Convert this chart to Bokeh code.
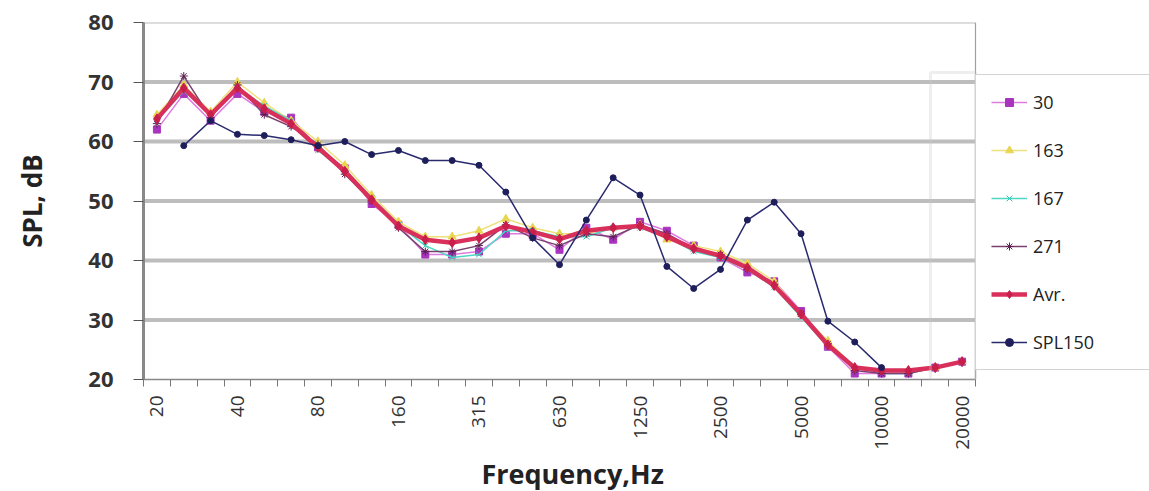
import numpy as np
from bokeh.plotting import figure
from bokeh.models import Range1d, FixedTicker, Legend, LegendItem, BoxAnnotation, Title
from bokeh.embed import file_html
from bokeh.resources import INLINE

nan = float("nan")

freqs = ["20", "25", "31.5", "40", "50", "63", "80", "100", "125", "160", "200",
         "250", "315", "400", "500", "630", "800", "1000", "1250", "1600", "2000",
         "2500", "3150", "4000", "5000", "6300", "8000", "10000", "12500", "16000", "20000"]

s30 = [62.0, 68.0, 63.5, 68.0, 65.0, 64.0, 59.0, 55.5, 49.5, 46.0, 41.0, 41.0, 41.5,
       44.5, 44.5, 41.8, 45.5, 43.5, 46.5, 45.0, 42.5, 40.5, 38.0, 36.5, 31.5, 25.5,
       21.0, 21.0, 21.0, 22.0, 23.0]
s163 = [64.5, 69.5, 65.0, 70.0, 66.5, 63.5, 60.0, 56.0, 51.0, 46.5, 44.0, 44.0, 45.0,
        47.0, 45.5, 44.5, 44.5, 45.5, 46.0, 43.5, 42.5, 41.5, 39.5, 36.5, 31.0, 26.5,
        22.0, 21.5, 21.5, 22.0, 23.0]
s167 = [63.5, 68.5, 64.5, 69.0, 66.0, 63.5, 58.5, 55.0, 50.5, 46.0, 42.5, 40.5, 41.0,
        45.0, 45.0, 44.0, 44.0, 45.5, 45.5, 44.0, 41.5, 40.5, 38.5, 35.5, 30.5, 25.5,
        22.0, 21.0, 21.0, 22.0, 23.0]
s271 = [63.0, 71.0, 64.0, 69.5, 64.5, 62.5, 59.5, 54.5, 50.0, 45.5, 41.5, 41.5, 42.5,
        46.0, 43.8, 42.5, 44.5, 44.0, 46.0, 44.5, 42.0, 41.0, 38.5, 36.0, 31.0, 26.0,
        21.5, 21.0, 21.0, 22.0, 23.0]
avr = [63.8, 69.0, 64.5, 69.0, 65.5, 63.0, 59.0, 55.0, 50.2, 45.8, 43.5, 43.0, 43.8,
       45.8, 44.8, 43.6, 45.0, 45.5, 45.8, 44.0, 42.0, 40.8, 38.8, 35.8, 31.0, 25.8,
       22.0, 21.5, 21.5, 22.0, 23.0]
spl150 = [nan, 59.3, 63.5, 61.2, 61.0, 60.3, 59.3, 60.0, 57.8, 58.5, 56.8, 56.8, 56.0,
          51.5, 43.8, 39.3, 46.8, 53.9, 51.0, 39.0, 35.3, 38.5, 46.8, 49.8, 44.5, 29.8,
          26.3, 22.0, nan, nan, nan]

y_ticks = [20, 30, 40, 50, 60, 70, 80]

x = list(range(len(freqs)))
n = len(freqs)

# layout: plotting area 832 px wide for the categories, the remaining
# 174 px on the right hold the legend (frame spans the whole width)
plot_w = 832
right_w = 174
x_end = (n - 0.5) + right_w * n / plot_w

p = figure(width=1149, height=491, output_backend="svg", toolbar_location=None,
           x_range=Range1d(-0.5, x_end), y_range=Range1d(20, 80),
           min_border_left=143, min_border_top=22, min_border_right=0,
           min_border_bottom=111)

p.background_fill_color = "white"
p.border_fill_color = "white"
p.outline_line_color = None

# grid (restricted to the category area)
p.xgrid.visible = False
p.ygrid.visible = False
mid = y_ticks[1:-1]
p.segment(x0=[-0.5] * len(mid), x1=[n - 0.5] * len(mid), y0=mid, y1=mid,
          line_color="#BDBDBD", line_width=4)
p.segment(x0=[-0.5], x1=[n - 0.5], y0=[y_ticks[-1]], y1=[y_ticks[-1]],
          line_color="#BBBBBB", line_width=2)
p.segment(x0=[n - 0.5], x1=[n - 0.5], y0=[y_ticks[0]], y1=[y_ticks[-1]],
          line_color="#A0A0A0", line_width=1.2)

# y axis
p.yaxis.ticker = FixedTicker(ticks=y_ticks)
p.yaxis.axis_line_color = "#888888"
p.yaxis.axis_line_width = 3
p.yaxis.major_tick_line_color = "#555555"
p.yaxis.major_tick_out = 10
p.yaxis.major_tick_in = 0
p.yaxis.minor_tick_line_color = None
p.yaxis.major_label_text_font = "Open Sans"
p.yaxis.major_label_text_font_style = "bold"
p.yaxis.major_label_text_font_size = "22px"
p.yaxis.major_label_text_color = "#333333"
p.yaxis.major_label_standoff = 20
p.yaxis.axis_label = "SPL, dB"
p.yaxis.axis_label_text_font = "Open Sans"
p.yaxis.axis_label_text_font_style = "bold"
p.yaxis.axis_label_text_font_size = "26px"
p.yaxis.axis_label_text_color = "#222222"
p.yaxis.axis_label_standoff = 35

# x axis
p.xaxis.bounds = (-0.5, n - 0.5)
p.xaxis.ticker = FixedTicker(ticks=[i for i in x if i % 3 == 0],
                             minor_ticks=[i - 0.5 for i in range(n + 1)])
p.xaxis.major_label_overrides = {i: freqs[i] for i in x if i % 3 == 0}
p.xaxis.major_label_orientation = np.pi / 2
p.xaxis.major_tick_out = 0
p.xaxis.major_tick_in = 0
p.xaxis.minor_tick_out = 7
p.xaxis.minor_tick_in = 0
p.xaxis.minor_tick_line_color = "#777777"
p.xaxis.axis_line_color = "#888888"
p.xaxis.axis_line_width = 1.5
p.xaxis.major_label_text_font = "Open Sans"
p.xaxis.major_label_text_font_size = "19px"
p.xaxis.major_label_text_color = "#333333"
p.xaxis.major_label_standoff = 9

# x axis title, centred under the category area
p.add_layout(Title(text="Frequency,Hz", align="left", offset=338,
                   text_font="Open Sans", text_font_style="bold",
                   text_font_size="27px", text_color="#222222", standoff=0), "below")

# decorative frame fragment (left edge of the original legend box)
p.add_layout(BoxAnnotation(left=28.82, right=n - 0.5, bottom=20, top=71.6,
                           fill_color=None, line_color="#C8C8C8", line_width=3))

series = [
    ("30", s30, "#E07AE0", "#A934BE", "square", 1.5, 7),
    ("163", s163, "#EEE07A", "#E8D650", "triangle", 1.5, 8),
    ("167", s167, "#4ED8C4", "#2EC8B0", "x", 1.5, 8),
    ("271", s271, "#7A4070", "#5A2050", "asterisk", 1.5, 8),
    ("Avr.", avr, "#D8305A", "#C81E4C", "diamond", 4.5, 10),
    ("SPL150", spl150, "#2A2A6E", "#1E1E5A", "circle", 1.5, 6),
]

items = []
for name, vals, lc, mc, mk, lw, ms in series:
    r1 = p.line(x, vals, line_color=lc, line_width=lw)
    r2 = p.scatter(x, vals, marker=mk, size=ms, fill_color=mc, line_color=mc)
    items.append(LegendItem(label=name, renderers=[r1, r2]))

legend = Legend(items=items, location=(plot_w, 9))
legend.label_text_font = "Open Sans"
legend.label_text_font_size = "18px"
legend.label_text_color = "#222222"
legend.glyph_width = 36
legend.glyph_height = 20
legend.label_height = 20
legend.label_width = 160
legend.label_standoff = 6
legend.spacing = 24
legend.padding = 15
legend.margin = 0
legend.border_line_color = "#A8A8A8"
legend.border_line_width = 1
legend.background_fill_color = "white"
legend.background_fill_alpha = 1.0
p.add_layout(legend, "center")

open("out.html", "w").write(file_html(p, INLINE))
